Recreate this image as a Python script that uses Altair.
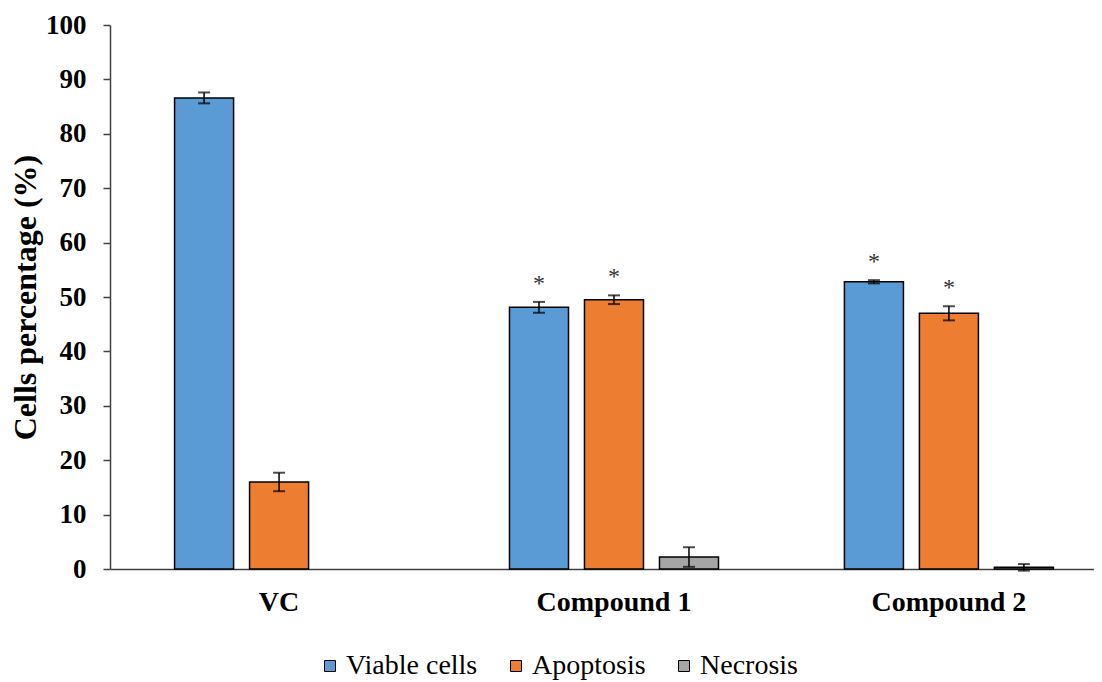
import altair as alt
import pandas as pd

groups = ["VC", "Compound 1", "Compound 2"]
series = ["Viable cells", "Apoptosis", "Necrosis"]
viable = [86.6, 48.1, 52.8]
viable_err = [1.0, 1.0, 0.3]
apoptosis = [16.0, 49.5, 47.0]
apoptosis_err = [1.7, 0.8, 1.3]
necrosis = [0.0, 2.2, 0.3]
necrosis_err = [0.0, 1.8, 0.6]
sig_viable = [False, True, True]
sig_apoptosis = [False, True, True]
sig_necrosis = [False, False, False]
colors = ["#5B9BD5", "#ED7D31", "#A5A5A5"]
y_ticks = [0, 10, 20, 30, 40, 50, 60, 70, 80, 90, 100]

rows = []
for s, vals, errs, sigs in zip(series,
                               [viable, apoptosis, necrosis],
                               [viable_err, apoptosis_err, necrosis_err],
                               [sig_viable, sig_apoptosis, sig_necrosis]):
    for g, v, e, f in zip(groups, vals, errs, sigs):
        rows.append({"group": g, "series": s, "value": v, "err": e,
                     "lo": v - e, "hi": v + e, "sig": f})
df = pd.DataFrame(rows)

FONT = "Liberation Serif"
Y_TITLE = "Cells percentage (%)"

x_enc = alt.X("group:N", sort=groups,
              scale=alt.Scale(paddingInner=0.376, paddingOuter=0.157, align=0.614),
              axis=alt.Axis(title=None, labelAngle=0, ticks=False, tickSize=0,
                            labelPadding=19, labelFont=FONT, labelFontSize=28,
                            labelFontWeight="bold", labelColor="black",
                            domainColor="#404040", domainWidth=1.5))
xo_enc = alt.XOffset("series:N", sort=series,
                     scale=alt.Scale(paddingInner=0.213, paddingOuter=0))
y_scale = alt.Scale(domain=[0, 100], nice=False)
y_axis = alt.Axis(values=y_ticks, title=Y_TITLE, grid=False,
                  tickSize=7, tickWidth=1.5, tickColor="#404040",
                  domainColor="#404040", domainWidth=1.5,
                  labelPadding=17, labelFont=FONT, labelFontSize=27,
                  labelFontWeight="bold", labelColor="black",
                  titleFont=FONT, titleFontSize=32, titleFontWeight="bold",
                  titleColor="black", titlePadding=3)

base = alt.Chart(df)

bars = base.mark_bar(stroke="black", strokeWidth=1.5).encode(
    x=x_enc,
    xOffset=xo_enc,
    y=alt.Y("value:Q", scale=y_scale, axis=y_axis, title=Y_TITLE),
    color=alt.Color("series:N", sort=series,
                    scale=alt.Scale(domain=series, range=colors),
                    legend=alt.Legend(title=None, orient="none", legendX=206, legendY=627,
                                      direction="horizontal", symbolType="square",
                                      symbolSize=121, symbolStrokeColor="black",
                                      symbolStrokeWidth=1, labelFont=FONT,
                                      labelFontSize=28, labelColor="black",
                                      labelOffset=2, columnPadding=24)),
).transform_filter(alt.datum.value > 0)

err_filter = alt.datum.err > 0

rules = base.mark_rule(color="black", strokeWidth=1.5).encode(
    x=x_enc, xOffset=xo_enc,
    y=alt.Y("lo:Q", scale=y_scale, axis=y_axis, title=Y_TITLE), y2="hi:Q",
).transform_filter(err_filter)

caps_hi = base.mark_tick(color="black", size=12, thickness=2).encode(
    x=x_enc, xOffset=xo_enc, y=alt.Y("hi:Q", scale=y_scale, axis=y_axis, title=Y_TITLE),
).transform_filter(err_filter)

caps_lo = base.mark_tick(color="black", size=12, thickness=2).encode(
    x=x_enc, xOffset=xo_enc, y=alt.Y("lo:Q", scale=y_scale, axis=y_axis, title=Y_TITLE),
).transform_filter(err_filter)

stars = base.mark_text(text="*", font=FONT, fontSize=24, fill="#333333", color="#333333",
                       baseline="alphabetic", dy=-11).encode(
    x=x_enc, xOffset=xo_enc, y=alt.Y("hi:Q", scale=y_scale, axis=y_axis, title=Y_TITLE),
).transform_filter(alt.datum.sig)

chart = alt.layer(bars, rules, caps_hi, caps_lo, stars).properties(
    width=984, height=544,
    padding={"left": 102, "top": 17, "right": 0, "bottom": 111},
    autosize="none",
).configure(
    font=FONT, background="white",
    style={"guide-label": {"font": FONT, "fontSize": 28, "fill": "black"}},
).configure_view(stroke=None).configure_legend(
    labelFont=FONT, labelFontSize=28, labelColor="black"
)

chart.save("out.html", embed_options={"renderer": "svg", "actions": False})
